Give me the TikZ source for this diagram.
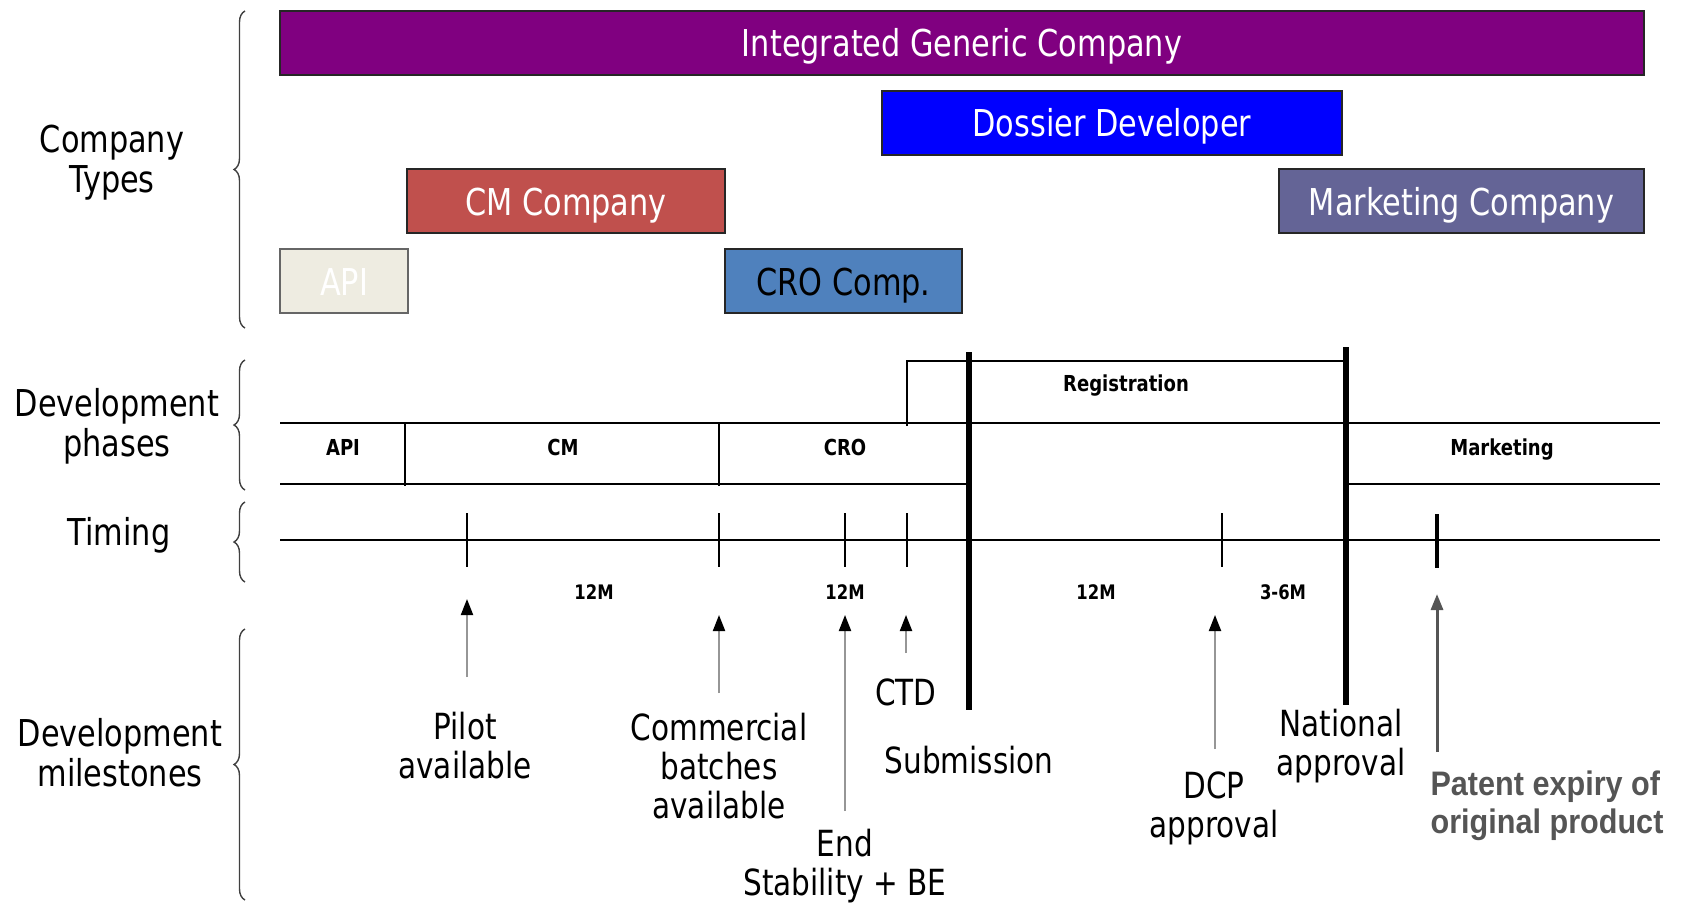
\documentclass[tikz,border=0pt]{standalone}
\usepackage{fontspec}
\setmainfont{DejaVu Sans}[FakeStretch=0.82]
\newfontfamily\patentfont{Liberation Sans}[FakeStretch=0.9]
\usetikzlibrary{decorations.pathreplacing,arrows.meta}
\definecolor{igc}{RGB}{128,0,128}
\definecolor{dossier}{RGB}{0,0,255}
\definecolor{cmred}{RGB}{192,80,77}
\definecolor{mktg}{RGB}{100,100,150}
\definecolor{apibg}{RGB}{238,236,225}
\definecolor{crob}{RGB}{79,129,189}
\definecolor{shaftgray}{RGB}{150,150,150}
\definecolor{patentgray}{RGB}{85,85,85}
\begin{document}
\begin{tikzpicture}[x=1pt,y=-1pt,
  ctype/.style={draw=black!85, line width=1.5pt, inner sep=0pt, minimum height=64pt,
    text height=30pt, text depth=2pt,
    text=white, font=\fontsize{37}{40}\selectfont},
  sidelabel/.style={align=center, font=\fontsize{37}{40}\selectfont, text=black},
  mlabel/.style={align=center, font=\fontsize{36}{39}\selectfont, text=black},
  phaselabel/.style={font=\bfseries\fontsize{22}{24}\selectfont, text height=15pt, text depth=3pt},
  timelabel/.style={font=\bfseries\fontsize{20}{22}\selectfont},
  bracedec/.style={decorate, decoration={brace, amplitude=11pt}, draw=black!75, line width=1.4pt},
  tline/.style={line width=2pt, black},
  thickline/.style={line width=5.5pt, black},
  tick/.style={line width=1.6pt, black},
  msarrow/.style={line width=2pt, shaftgray, -{Triangle[length=16pt,width=12pt,color=black]}},
  patarrow/.style={line width=3pt, patentgray, -{Triangle[length=16pt,width=12pt,color=patentgray]}}
]
\useasboundingbox (0,0) rectangle (1685,904);

% ---- Company type boxes
\node[ctype, fill=igc, minimum width=1364pt] (igcbox) at (962,43) {Integrated Generic Company};
\node[ctype, fill=dossier, minimum width=460pt] (dossbox) at (1112,123) {Dossier Developer};
\node[ctype, fill=cmred, minimum width=318pt] (cmbox) at (566,201) {CM Company};
\node[ctype, fill=mktg, minimum width=365pt] (mktbox) at (1461.5,201) {Marketing Company};
\node[ctype, fill=apibg, draw=black!60, minimum width=128pt] (apibox) at (344,281) {API};
\node[ctype, fill=crob, text=black, minimum width=237pt] (crobox) at (843.5,281) {CRO Comp.};

% ---- Side labels and braces
\node[sidelabel] (lct) at (112,163) {Company\\Types};
\node[sidelabel] (ldp) at (117,426) {Development\\phases};
\node[sidelabel] (ltm) at (119,535) {Timing};
\node[sidelabel] (ldm) at (120,753) {Development\\milestones};

\coordinate (b1a) at (245,328); \coordinate (b1b) at (245,11);
\coordinate (b2a) at (245,490); \coordinate (b2b) at (245,360);
\coordinate (b3a) at (245,582); \coordinate (b3b) at (245,502);
\coordinate (b4a) at (245,900); \coordinate (b4b) at (245,629);
\draw[bracedec] (b1a) -- (b1b);
\draw[bracedec] (b2a) -- (b2b);
\draw[bracedec] (b3a) -- (b3b);
\draw[bracedec] (b4a) -- (b4b);

% ---- Development phases table
\coordinate (ptl) at (280,423); \coordinate (ptr) at (1660,423);
\coordinate (pbl) at (280,484); \coordinate (pbm) at (969,484);
\coordinate (pbn) at (1346,484); \coordinate (pbr) at (1660,484);
\draw[tline] (ptl) -- (ptr);
\draw[tline] (pbl) -- (pbm);
\draw[tline] (pbn) -- (pbr);
\coordinate (s1t) at (405,423); \coordinate (s1b) at (405,486);
\coordinate (s2t) at (719,423); \coordinate (s2b) at (719,486);
\draw[tline] (s1t) -- (s1b);
\draw[tline] (s2t) -- (s2b);
% registration bracket
\coordinate (rg1) at (907,426); \coordinate (rg2) at (907,361); \coordinate (rg3) at (1346,361);
\draw[tline] (rg1) -- (rg2) -- (rg3);

\node[phaselabel] (papi) at (343,449) {API};
\node[phaselabel] (pcm) at (563,449) {CM};
\node[phaselabel] (pcro) at (845,449) {CRO};
\node[phaselabel] (pmkt) at (1502,449) {Marketing};
\node[phaselabel] (preg) at (1126,385) {Registration};

% ---- Timing line
\coordinate (tl) at (280,540); \coordinate (tr) at (1660,540);
\draw[tline] (tl) -- (tr);
\foreach \x/\n in {467/a,719/b,845/c,907/d,1222/e}{
  \coordinate (tk\n t) at (\x,513); \coordinate (tk\n b) at (\x,567);
  \draw[tick] (tk\n t) -- (tk\n b);
}
\coordinate (tkft) at (1437,514); \coordinate (tkfb) at (1437,568);
\draw[line width=3.5pt] (tkft) -- (tkfb);

\node[timelabel] (t12a) at (594,592) {12M};
\node[timelabel] (t12b) at (845,592) {12M};
\node[timelabel] (t12c) at (1096,592) {12M};
\node[timelabel] (t36) at (1283,592) {3-6M};

% ---- Thick milestone lines
\coordinate (subt) at (969,352); \coordinate (subb) at (969,710);
\coordinate (natt) at (1346,347); \coordinate (natb) at (1346,705);
\draw[thickline] (subt) -- (subb);
\draw[thickline] (natt) -- (natb);

% ---- Milestone arrows
\coordinate (a1s) at (467,677); \coordinate (a1e) at (467,599);
\coordinate (a2s) at (719,693); \coordinate (a2e) at (719,615);
\coordinate (a3s) at (845,811); \coordinate (a3e) at (845,615);
\coordinate (a4s) at (906,653); \coordinate (a4e) at (906,615);
\coordinate (a5s) at (1215,749); \coordinate (a5e) at (1215,615);
\coordinate (a6s) at (1437,752); \coordinate (a6e) at (1437,594);
\draw[msarrow] (a1s) -- (a1e);
\draw[msarrow] (a2s) -- (a2e);
\draw[msarrow] (a3s) -- (a3e);
\draw[msarrow] (a4s) -- (a4e);
\draw[msarrow] (a5s) -- (a5e);
\draw[patarrow] (a6s) -- (a6e);

% ---- Milestone labels
\node[mlabel] (mpilot) at (465,746) {Pilot\\available};
\node[mlabel] (mcomm) at (719,766) {Commercial\\batches\\available};
\node[mlabel] (mend) at (845,866) {End\\Stability + BE};
\node[mlabel] (mctd) at (906,692) {CTD};
\node[mlabel] (msub) at (969,760) {Submission};
\node[mlabel] (mdcp) at (1214,808) {DCP\\approval};
\node[mlabel] (mnat) at (1341,746) {National\\approval};
\node[anchor=west, align=left, text=patentgray, font=\patentfont\bfseries\fontsize{34}{38}\selectfont] (mpat) at (1427,806) {Patent expiry of\\original product};
\end{tikzpicture}
\end{document}
